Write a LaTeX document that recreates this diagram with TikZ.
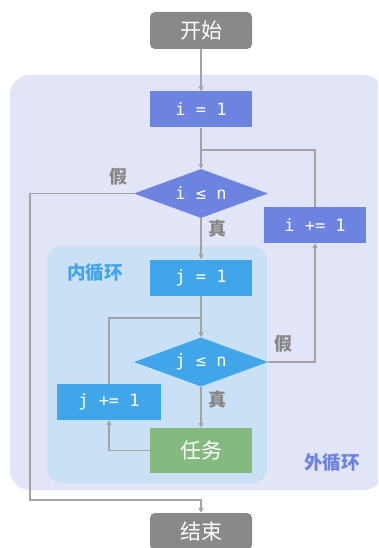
\documentclass[tikz,border=0pt]{standalone}
\usepackage{fontspec}
\setmonofont{DejaVu Sans Mono}
\newfontfamily\cjk{Noto Sans CJK SC}
\usetikzlibrary{shapes.geometric,arrows.meta}
\definecolor{outerbg}{HTML}{E2E5F7}
\definecolor{innerbg}{HTML}{CAE1F5}
\definecolor{ibox}{HTML}{6C83DF}
\definecolor{jbox}{HTML}{41A5E9}
\definecolor{taskc}{HTML}{84BA80}
\definecolor{termc}{HTML}{898989}
\definecolor{linec}{HTML}{A3A3A3}
\definecolor{labc}{HTML}{858585}
\tikzset{
  terminal/.style={draw=none,fill=termc,rounded corners=5pt,minimum width=102pt,minimum height=37pt,inner sep=0pt,text=white,font=\cjk\fontsize{21}{21}\selectfont},
  procbox/.style={draw=none,minimum width=102pt,minimum height=36pt,inner sep=0pt,text=white,font=\ttfamily\fontsize{17}{17}\selectfont},
  decbox/.style={draw=none,diamond,aspect=2.73,minimum width=134pt,minimum height=49pt,inner sep=0pt,text=white,font=\ttfamily\fontsize{17}{17}\selectfont},
  flow/.style={draw=linec,line width=1.4pt,-{Triangle[length=5pt,width=5pt]}},
  plain/.style={draw=linec,line width=1.4pt},
  tflabel/.style={text=labc,font=\cjk\bfseries\fontsize{18}{18}\selectfont,inner sep=0pt},
  grouplabel/.style={font=\cjk\bfseries\fontsize{18.5}{18.5}\selectfont,inner sep=0pt}
}
\begin{document}
\begin{tikzpicture}[x=1pt,y=-1pt]
\useasboundingbox (0,0) rectangle (378,548);
\clip (0,0) rectangle (378,548);
% backgrounds
\fill[outerbg,rounded corners=20pt] (10,75) rectangle (384,490);
\fill[innerbg,rounded corners=14pt] (47,246) rectangle (267,483);
% nodes
\node[terminal] (start) at (201,30.5) {开始};
\node[procbox,fill=ibox] (i1) at (201,109.5) {i = 1};
\node[decbox,fill=ibox] (icond) at (201,193.5) {i ≤ n};
\node[procbox,fill=ibox] (iinc) at (315,225) {i += 1};
\node[procbox,fill=jbox] (j1) at (201,277.5) {j = 1};
\node[decbox,fill=jbox] (jcond) at (201,362) {j ≤ n};
\node[procbox,fill=jbox,minimum width=104pt] (jinc) at (109,402) {j += 1};
\node[procbox,fill=taskc,minimum height=45pt,font=\cjk\fontsize{21}{21}\selectfont] (task) at (201,450.5) {任务};
\node[terminal] (end) at (201,531.5) {结束};
\coordinate (jn1) at (201,150);
\coordinate (jn2) at (201,318);
\coordinate (exitc) at (30,500);
% labels
\node[tflabel] (f1) at (118,177) {假};
\node[tflabel] (t1) at (217,229) {真};
\node[tflabel] (f2) at (283,344) {假};
\node[tflabel] (t2) at (217,400) {真};
\node[grouplabel,text=jbox] (inl) at (95,273) {内循环};
\node[grouplabel,text=ibox] (outl) at (332,463) {外循环};
% connectors
\draw[flow] (start) -- (i1);
\draw[flow] (i1) -- (icond);
\draw[plain] (iinc.north) |- (jn1);
\draw[flow] (icond.west) -| (exitc) -| (end.north);
\draw[flow] (icond) -- (j1);
\draw[flow] (j1) -- (jcond);
\draw[plain] (jinc.north) |- (jn2);
\draw[flow] (jcond) -- (task);
\draw[flow] (task.west) -| (jinc.south);
\draw[flow] (jcond.east) -| (iinc.south);
\end{tikzpicture}
\end{document}
